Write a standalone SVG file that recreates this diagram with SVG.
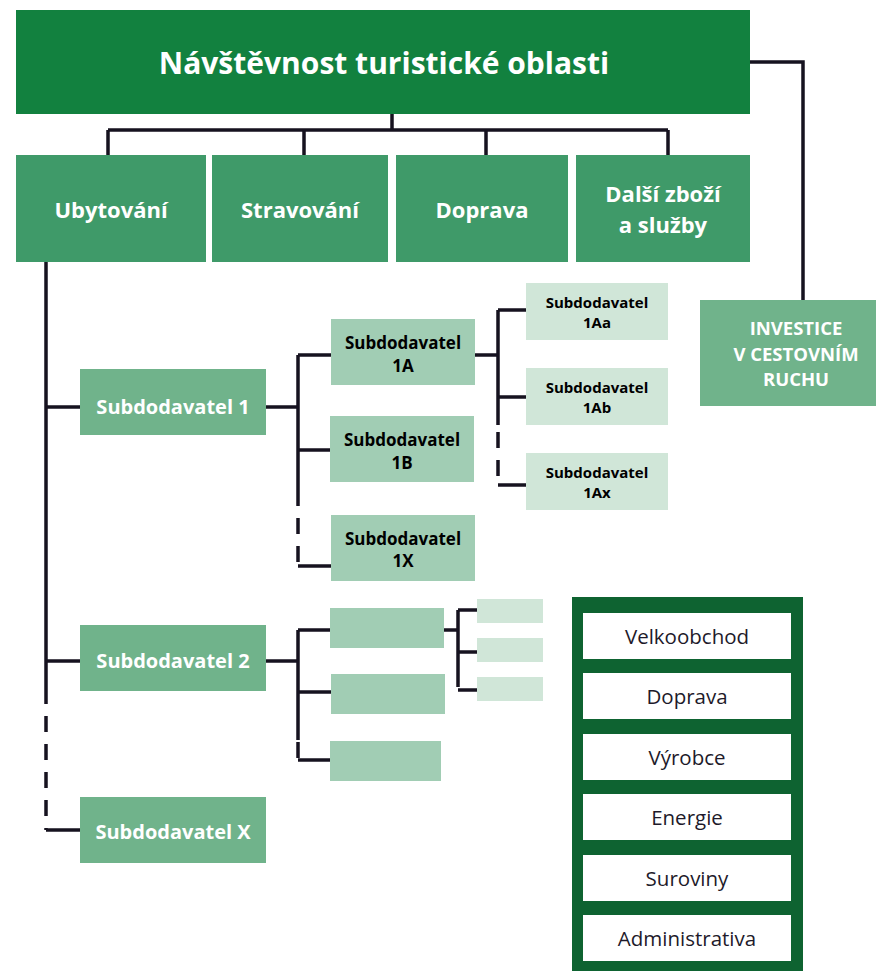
<svg xmlns="http://www.w3.org/2000/svg" width="876" height="971" viewBox="0 0 876 971">
<style>
text{font-family:"Open Sans","Noto Sans","DejaVu Sans",sans-serif;text-anchor:middle}
.top{fill:#12813f}
.l1{fill:#3f9a69}
.l2{fill:#70b38b}
.l3{fill:#a1cdb4}
.l4{fill:#d0e6d8}
.w{fill:#ffffff;font-weight:bold}
.b{fill:#000000;font-weight:bold}
.c{fill:none;stroke:#16121f;stroke-width:3.5}
.d{fill:none;stroke:#16121f;stroke-width:3.5;stroke-dasharray:16 12}
.n{fill:#1e1a2a;font-size:20.5px}
</style>
<g id="connectors">
<path class="c" d="M392 114V130M108 130H668M108 130V155M304 130V155M486 130V155M668 130V155"/>
<path class="c" d="M750 62H803V300"/>
<path class="c" d="M46 262V688M46 407H80M46 661H80"/>
<path class="d" d="M46 688V830"/>
<path class="c" d="M46 830H80"/>
<path class="c" d="M266 407H298M298 355V490M298 355H331M298 450H330"/>
<path class="d" d="M298 490V566"/>
<path class="c" d="M298 566H331"/>
<path class="c" d="M475 355H498M498 310V425M498 310H526M498 397H526"/>
<path class="d" d="M498 432V486"/>
<path class="c" d="M498 485H526"/>
<path class="c" d="M266 661H298M298 630V740M298 630H330M298 692H331"/>
<path class="d" d="M298 742V760"/>
<path class="c" d="M298 760H330"/>
<path class="c" d="M444 630H458M458 610V687M458 610H477M458 652H477M458 690H477"/>
</g>
<g id="n_top"><rect class="top" x="16" y="10" width="734" height="104"/><text class="w" x="384" y="74" font-size="30">Návštěvnost turistické oblasti</text></g>
<g id="n_ubyt"><rect class="l1" x="16" y="155" width="190" height="107"/><text class="w" x="111" y="218" font-size="22">Ubytování</text></g>
<g id="n_strav"><rect class="l1" x="212" y="155" width="176" height="107"/><text class="w" x="300" y="218" font-size="22">Stravování</text></g>
<g id="n_doprava"><rect class="l1" x="396" y="155" width="172" height="107"/><text class="w" x="482" y="218" font-size="22">Doprava</text></g>
<g id="n_dalsi"><rect class="l1" x="576" y="155" width="174" height="107"/><text class="w" x="663" y="202" font-size="22">Další zboží</text><text class="w" x="663" y="233" font-size="22">a služby</text></g>
<g id="n_invest"><rect class="l2" x="700" y="300" width="176" height="106"/><text class="w" x="796" y="335" font-size="18.5">INVESTICE</text><text class="w" x="796" y="361" font-size="18.5">V CESTOVNÍM</text><text class="w" x="796" y="386" font-size="18.5">RUCHU</text></g>
<g id="n_s1"><rect class="l2" x="80" y="369" width="186" height="66"/><text class="w" x="173" y="414" font-size="20">Subdodavatel 1</text></g>
<g id="n_s1a"><rect class="l3" x="331" y="319" width="144" height="66"/><text class="b" x="403" y="349" font-size="17">Subdodavatel</text><text class="b" x="403" y="372" font-size="17">1A</text></g>
<g id="n_s1b"><rect class="l3" x="330" y="416" width="144" height="66"/><text class="b" x="402" y="446" font-size="17">Subdodavatel</text><text class="b" x="402" y="469" font-size="17">1B</text></g>
<g id="n_s1x"><rect class="l3" x="331" y="515" width="144" height="66"/><text class="b" x="403" y="545" font-size="17">Subdodavatel</text><text class="b" x="403" y="567" font-size="17">1X</text></g>
<g id="n_s1aa"><rect class="l4" x="526" y="283" width="142" height="57"/><text class="b" x="597" y="308" font-size="15">Subdodavatel</text><text class="b" x="597" y="328" font-size="15">1Aa</text></g>
<g id="n_s1ab"><rect class="l4" x="526" y="368" width="142" height="57"/><text class="b" x="597" y="393" font-size="15">Subdodavatel</text><text class="b" x="597" y="413" font-size="15">1Ab</text></g>
<g id="n_s1ax"><rect class="l4" x="526" y="453" width="142" height="57"/><text class="b" x="597" y="478" font-size="15">Subdodavatel</text><text class="b" x="597" y="498" font-size="15">1Ax</text></g>
<g id="n_s2"><rect class="l2" x="80" y="625" width="186" height="66"/><text class="w" x="173" y="668" font-size="20">Subdodavatel 2</text></g>
<g id="n_s2a"><rect class="l3" x="330" y="608" width="114" height="40"/></g>
<g id="n_s2b"><rect class="l3" x="331" y="674" width="114" height="40"/></g>
<g id="n_s2x"><rect class="l3" x="330" y="741" width="111" height="40"/></g>
<g id="n_s2aa"><rect class="l4" x="477" y="599" width="66" height="24"/></g>
<g id="n_s2ab"><rect class="l4" x="477" y="638" width="66" height="24"/></g>
<g id="n_s2ax"><rect class="l4" x="477" y="677" width="66" height="24"/></g>
<g id="n_sx"><rect class="l2" x="80" y="797" width="186" height="66"/><text class="w" x="173" y="839" font-size="20">Subdodavatel X</text></g>
<g id="n_panel">
<rect x="572" y="597" width="231" height="374" fill="#0e6331"/>
<rect x="583" y="613" width="208" height="46" fill="#fff"/><text class="n" x="687" y="644">Velkoobchod</text>
<rect x="583" y="673" width="208" height="46" fill="#fff"/><text class="n" x="687" y="704">Doprava</text>
<rect x="583" y="734" width="208" height="46" fill="#fff"/><text class="n" x="687" y="765">Výrobce</text>
<rect x="583" y="794" width="208" height="46" fill="#fff"/><text class="n" x="687" y="825">Energie</text>
<rect x="583" y="855" width="208" height="46" fill="#fff"/><text class="n" x="687" y="886">Suroviny</text>
<rect x="583" y="915" width="208" height="46" fill="#fff"/><text class="n" x="687" y="946">Administrativa</text>
</g>
</svg>
